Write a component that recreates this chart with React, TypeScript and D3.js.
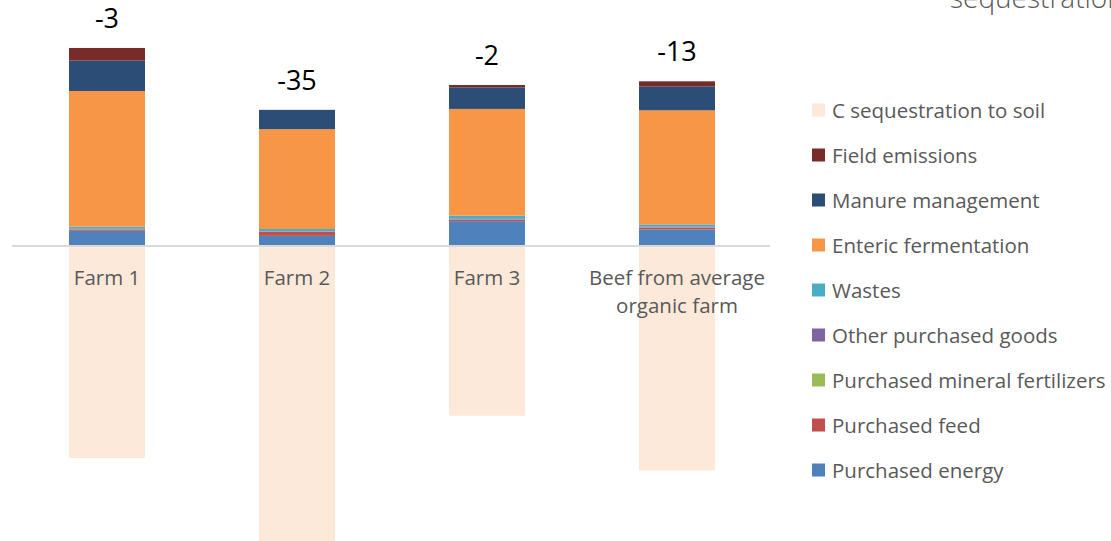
import React from "react";
import * as d3 from "d3";

const categories = ["Farm 1", "Farm 2", "Farm 3", "Beef from average organic farm"];
const categoryLines = [["Farm 1"], ["Farm 2"], ["Farm 3"], ["Beef from average", "organic farm"]];

const purchasedEnergy = [3.3, 2.2, 5.4, 3.6];
const purchasedFeed = [0.3, 0.85, 0.35, 0.4];
const purchasedFertilizers = [0.05, 0.05, 0.05, 0.05];
const otherGoods = [0.1, 0.1, 0.1, 0.2];
const wastes = [0.45, 0.5, 0.7, 0.45];
const entericFermentation = [29.5, 21.7, 23.2, 24.8];
const manureManagement = [6.6, 4.2, 4.7, 5.2];
const fieldEmissions = [2.75, 0, 0.5, 1.1];
const cSequestration = [-46.1, -64.4, -36.9, -48.8];
const netLabels = ["-3", "-35", "-2", "-13"];

const seriesNames = [
  "Purchased energy",
  "Purchased feed",
  "Purchased mineral fertilizers",
  "Other purchased goods",
  "Wastes",
  "Enteric fermentation",
  "Manure management",
  "Field emissions",
  "C sequestration to soil",
];
const seriesValues = [
  purchasedEnergy,
  purchasedFeed,
  purchasedFertilizers,
  otherGoods,
  wastes,
  entericFermentation,
  manureManagement,
  fieldEmissions,
  cSequestration,
];
const seriesColors = [
  "#4f81bd",
  "#c0504d",
  "#9bbb59",
  "#8064a2",
  "#4bacc6",
  "#f79646",
  "#2c4d75",
  "#772c2a",
  "#fde9d9",
];

const W = 1111;
const H = 541;

export default function App() {
  const rows = categories.map((c, i) => {
    const r: any = { cat: c };
    seriesNames.forEach((s, j) => (r[s] = seriesValues[j][i]));
    return r;
  });
  const stacked = d3
    .stack<any>()
    .keys(seriesNames)
    .offset(d3.stackOffsetDiverging)(rows);

  const x = d3.scaleBand<string>().domain(categories).range([12, 772]).paddingInner(0.6).paddingOuter(0.3);
  const y = d3.scaleLinear().domain([-64, 45]).range([246 + 64 * 4.6, 246 - 45 * 4.6]);

  const font = "'Open Sans', sans-serif";
  const legendOrder = seriesNames.map((_, i) => i).reverse();

  return (
    <svg width={W} height={H} style={{ position: "absolute", left: 0, top: 0, background: "#fff" }}>
      <text x={950} y={8} fontFamily={font} fontSize={28} fontWeight={300} fill="#595959">
        sequestration
      </text>
      {stacked.map((layer, j) => (
        <g key={layer.key} fill={seriesColors[j]}>
          {layer.map((d, i) => {
            const y0 = y(d[0]);
            const y1 = y(d[1]);
            const h = Math.abs(y0 - y1);
            if (h <= 0) return null;
            return (
              <rect
                key={i}
                x={x(categories[i])}
                width={x.bandwidth()}
                y={Math.min(y0, y1)}
                height={h}
              />
            );
          })}
        </g>
      ))}
      <line x1={12} x2={770} y1={y(0)} y2={y(0)} stroke="#d9d9d9" strokeWidth={2} />
      {categories.map((c, i) => {
        const top = d3.max(stacked, (layer) => layer[i][1]) as number;
        const cx = (x(c) as number) + x.bandwidth() / 2;
        return (
          <g key={c}>
            <text x={cx} y={y(top) - 20} textAnchor="middle" fontFamily={font} fontSize={27} fill="#000">
              {netLabels[i]}
            </text>
            {categoryLines[i].map((ln, k) => (
              <text
                key={k}
                x={cx}
                y={285 + k * 28}
                textAnchor="middle"
                fontFamily={font}
                fontSize={20.5}
                fill="#595959"
              >
                {ln}
              </text>
            ))}
          </g>
        );
      })}
      {legendOrder.map((j, k) => (
        <g key={j} transform={`translate(812, ${110 + k * 45})`}>
          <rect x={0} y={-6.5} width={13} height={13} fill={seriesColors[j]} />
          <text x={20} y={7.5} fontFamily={font} fontSize={20.5} fill="#595959">
            {seriesNames[j]}
          </text>
        </g>
      ))}
    </svg>
  );
}
